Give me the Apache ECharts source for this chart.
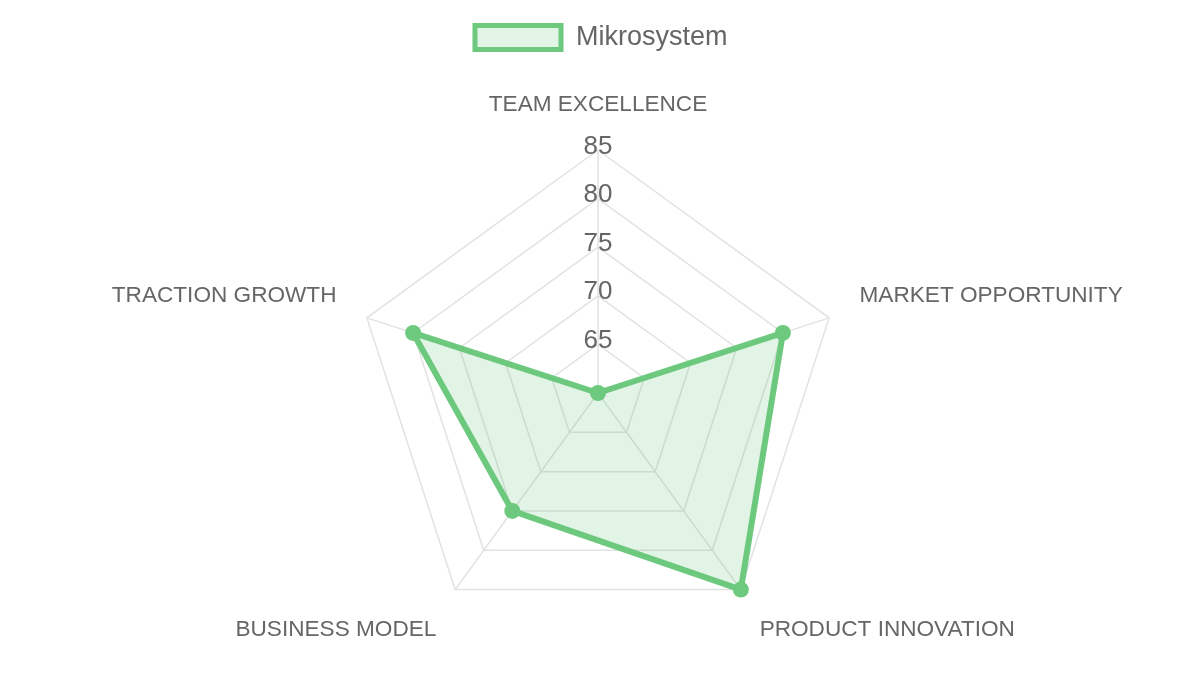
<!DOCTYPE html>
<html>
<head>
<meta charset="utf-8">
<style>
  html, body { margin: 0; padding: 0; background: #fff; }
  #chart { width: 1200px; height: 675px; }
</style>
<script src="https://cdn.jsdelivr.net/npm/echarts@6/dist/echarts.min.js"></script>
</head>
<body>
<div id="chart"></div>
<script>
  // clockwise from the top
  var categories = ['TEAM EXCELLENCE', 'MARKET OPPORTUNITY', 'PRODUCT INNOVATION', 'BUSINESS MODEL', 'TRACTION GROWTH'];
  var seriesName = 'Mikrosystem';
  var values = [60, 80, 85, 75, 80];
  var scaleMin = 60;
  var scaleMax = 85;

  var lineColor = '#6cc97e';
  var fillColor = 'rgba(108, 201, 126, 0.2)';
  var font = 'Liberation Sans, Arial, sans-serif';

  // echarts lays indicators out counter-clockwise, so walk them backwards
  var order = [0];
  for (var k = categories.length - 1; k > 0; k--) order.push(k);

  var indicator = order.map(function (i, pos) {
    var item = { name: categories[i], min: scaleMin, max: scaleMax };
    if (pos === 0) {
      // tick labels only on the top axis
      item.axisLabel = {
        show: true,
        showMinLabel: false,
        margin: 0,
        align: 'center',
        verticalAlign: 'middle',
        formatter: function (v) { return '{v|' + v + '}\n{g| }'; },
        rich: {
          v: { color: '#666', fontSize: 26, fontFamily: font, lineHeight: 28 },
          g: { fontSize: 1, lineHeight: 7, height: 7 }
        }
      };
    }
    return item;
  });
  var ordered = order.map(function (i) { return values[i]; });
  var sideNames = [categories[1], categories[4]];
  var bottomNames = [categories[2], categories[3]];

  var chart = echarts.init(document.getElementById('chart'));
  chart.setOption({
    backgroundColor: '#fff',
    animation: false,
    legend: {
      data: [seriesName],
      top: 18,
      left: 'center',
      icon: 'rect',
      itemWidth: 86,
      itemHeight: 24,
      itemStyle: {
        color: fillColor,
        borderColor: lineColor,
        borderWidth: 5
      },
      textStyle: {
        color: '#666',
        fontSize: 27,
        fontFamily: font,
        padding: [2, 0, 0, 10]
      }
    },
    radar: {
      center: [598, 393],
      radius: 243,
      shape: 'polygon',
      startAngle: 90,
      splitNumber: 5,
      indicator: indicator,
      nameGap: 32,
      axisName: {
        color: '#666',
        fontSize: 22.6,
        fontFamily: font,
        formatter: function (name) {
          if (sideNames.indexOf(name) > -1) return '{n|' + name + '}\n{gs| }';
          if (bottomNames.indexOf(name) > -1) return '{gb| }\n{n|' + name + '}';
          return '{n|' + name + '}';
        },
        rich: {
          n: { color: '#666', fontSize: 22.6, fontFamily: font, lineHeight: 26 },
          gs: { fontSize: 1, lineHeight: 24, height: 24 },
          gb: { fontSize: 1, lineHeight: 28, height: 28 }
        }
      },
      axisLabel: { show: false },
      axisTick: { show: false },
      axisLine: { lineStyle: { color: '#e2e2e2', width: 1.5 } },
      splitLine: { lineStyle: { color: '#e2e2e2', width: 1.5 } },
      splitArea: { show: false }
    },
    series: [{
      name: seriesName,
      type: 'radar',
      symbol: 'circle',
      symbolSize: 16,
      lineStyle: { color: lineColor, width: 6 },
      itemStyle: { color: lineColor },
      areaStyle: { color: fillColor, opacity: 1 },
      data: [{ value: ordered, name: seriesName }]
    }]
  });
</script>
</body>
</html>
